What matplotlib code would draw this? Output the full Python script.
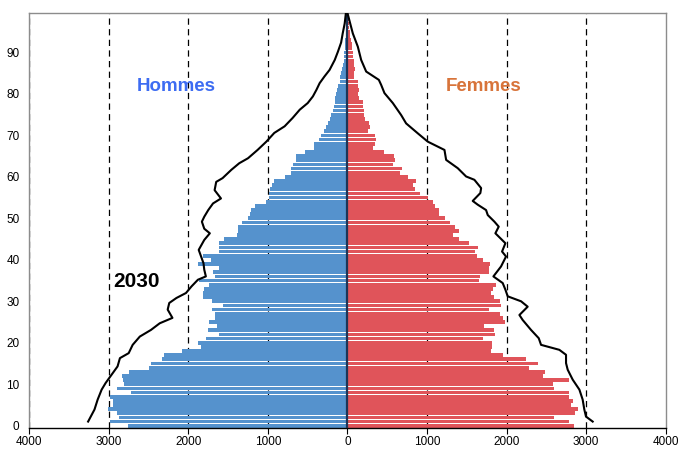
import matplotlib

matplotlib.use("Agg")

import matplotlib.pyplot as plt
import numpy as np

plt.rcParams["font.family"] = ["Liberation Sans", "DejaVu Sans"]

# population by single year of age (0..99)
ages = np.arange(100)

hommes = [
    2760, 2990, 2870, 2900, 3010, 2950, 2950, 2980, 2720, 2900,
    2810, 2820, 2830, 2750, 2490, 2470, 2330, 2310, 2080, 1840,
    1880, 1780, 1620, 1750, 1640, 1740, 1670, 1670, 1700, 1570,
    1700, 1810, 1820, 1800, 1740, 1870, 1660, 1690, 1620, 1880,
    1720, 1810, 1610, 1610, 1620, 1550, 1390, 1370, 1380, 1320,
    1250, 1220, 1210, 1160, 1030, 990, 990, 970, 950, 920,
    790, 710, 710, 680, 645, 645, 540, 415, 415, 360,
    330, 290, 275, 245, 220, 205, 188, 167, 151, 151,
    142, 134, 121, 100, 100, 79, 67, 59, 50, 38,
    38, 30, 28, 25, 20, 16, 12, 9, 6, 4,
]

femmes = [
    2852, 2789, 2600, 2864, 2893, 2809, 2838, 2789, 2789, 2600,
    2578, 2789, 2453, 2487, 2277, 2390, 2244, 1951, 1805, 1817,
    1817, 1700, 1859, 1846, 1721, 1985, 1951, 1917, 1784, 1930,
    1917, 1846, 1805, 1825, 1867, 1649, 1666, 1784, 1784, 1792,
    1700, 1624, 1608, 1637, 1532, 1398, 1323, 1406, 1356, 1290,
    1231, 1156, 1147, 1105, 1080, 1009, 913, 854, 829, 862,
    758, 666, 687, 578, 599, 590, 465, 327, 352, 360,
    352, 255, 285, 268, 226, 213, 213, 200, 193, 142,
    130, 142, 130, 130, 88, 88, 100, 88, 88, 75,
    75, 58, 58, 46, 33, 30, 25, 20, 15, 10,
]

# 2030 projection outline
ages_2030_h = [
    1.0, 3.9, 6.3, 8.7, 10.3, 12.7, 14.3, 16.3, 17.5, 19.5,
    21.5, 23.1, 24.7, 26.0, 28.0, 29.6, 30.8, 32.0, 33.6, 35.2,
    36.0, 37.6, 39.2, 42.4, 44.8, 46.4, 47.5, 49.2, 50.4, 52.0,
    53.6, 54.8, 56.8, 58.8, 59.7, 61.7, 63.3, 64.5, 66.5, 68.5,
    70.6, 72.2, 74.2, 76.2, 77.8, 79.4, 81.0, 82.6, 84.2, 85.8,
    88.2, 90.2, 92.4, 94.6, 97.0, 99.5,
]
hommes_2030 = [
    3260, 3180, 3140, 3090, 3040, 2950, 2890, 2860, 2750, 2700,
    2610, 2470, 2360, 2200, 2260, 2240, 2150, 2030, 1960, 1880,
    1780, 1800, 1810, 1870, 1800, 1730, 1800, 1830, 1800, 1750,
    1690, 1590, 1670, 1650, 1570, 1460, 1360, 1250, 1130, 1020,
    920, 790, 690, 600, 500, 435, 390, 350, 290, 225,
    160, 120, 80, 60, 35, 20,
]

ages_2030_f = [
    1.0, 2.2, 3.9, 6.3, 8.7, 11.1, 13.5, 15.1, 17.1, 18.3,
    19.5, 21.1, 23.1, 25.5, 26.7, 28.7, 30.0, 31.2, 32.8, 34.4,
    36.0, 38.4, 40.8, 42.0, 44.0, 46.4, 48.0, 49.2, 50.8, 52.0,
    53.3, 54.2, 56.1, 57.3, 59.3, 60.1, 62.1, 64.1, 66.5, 68.5,
    70.5, 72.9, 74.9, 77.8, 80.2, 82.2, 83.4, 85.4, 88.2, 91.4,
    94.6, 99.5,
]
femmes_2030 = [
    3082, 2998, 2977, 2956, 2915, 2831, 2768, 2747, 2747, 2663,
    2433, 2404, 2307, 2202, 2161, 2265, 2182, 2014, 1985, 1951,
    1834, 1930, 1993, 1943, 1985, 1859, 1901, 1847, 1763, 1742,
    1637, 1574, 1670, 1680, 1595, 1491, 1386, 1240, 1219, 1009,
    884, 737, 675, 570, 465, 423, 394, 235, 172, 130,
    67, 0,
]

x_ticks = [-4000, -3000, -2000, -1000, 0, 1000, 2000, 3000, 4000]
y_ticks = [0, 10, 20, 30, 40, 50, 60, 70, 80, 90]

fig = plt.figure(figsize=(6.8, 4.51), dpi=100)
ax = fig.add_axes([0.043, 0.051, 0.936, 0.920])

for xv in [-4000, -3000, -2000, -1000, 1000, 2000, 3000]:
    ax.axvline(xv, color="black", linewidth=0.9, linestyle=(0, (5, 3.5)), zorder=1)

ax.barh(ages, -np.array(hommes), height=0.9, color="#5592cd", zorder=2)
ax.barh(ages, femmes, height=0.9, color="#e0545a", zorder=2)
ax.axvline(0, color="#1d3557", linewidth=1.6, zorder=3)

ax.plot(-np.array(hommes_2030), ages_2030_h, color="black", linewidth=1.5, zorder=4)
ax.plot(femmes_2030, ages_2030_f, color="black", linewidth=1.5, zorder=4)

ax.text(-2150, 81.7, "Hommes", color="#3d6cf2", fontsize=13.5, fontweight="bold",
        ha="center", va="center", zorder=5)
ax.text(1710, 81.7, "Femmes", color="#d8743a", fontsize=13.5, fontweight="bold",
        ha="center", va="center", zorder=5)
ax.text(-2940, 34.7, "2030", color="black", fontsize=15, fontweight="bold",
        ha="left", va="center", zorder=5)

ax.set_xlim(-4000, 4000)
ax.set_ylim(-0.55, 99.5)
ax.set_xticks(x_ticks)
ax.set_xticklabels([str(abs(v)) for v in x_ticks])
ax.set_yticks(y_ticks)
ax.tick_params(axis="x", length=4, width=0.8, pad=2, labelsize=8.5, colors="black")
ax.tick_params(axis="y", length=0, pad=7, labelsize=8.5)

for side in ["left", "top", "right"]:
    ax.spines[side].set_color("#8c8c8c")
    ax.spines[side].set_linewidth(1.0)
ax.spines["bottom"].set_color("black")
ax.spines["bottom"].set_linewidth(1.0)

fig.savefig("out.png", dpi=100)
plt.close(fig)
